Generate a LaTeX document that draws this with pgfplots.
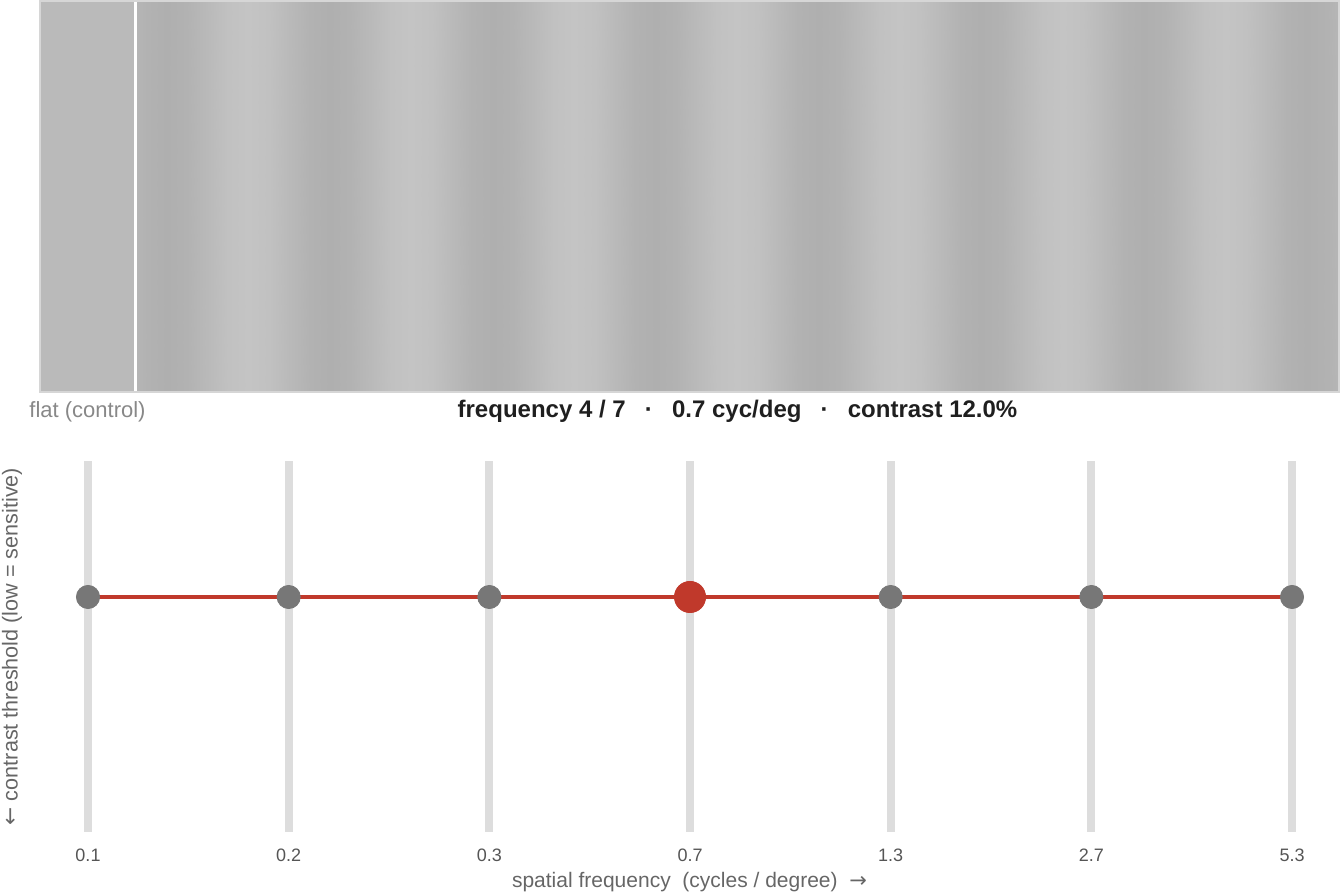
\documentclass[border=0pt]{standalone}
\usepackage{fontspec}
\setmainfont{Liberation Sans}
\newfontfamily\arrowfont{DejaVu Sans}
\usepackage{pgfplots}
\pgfplotsset{compat=1.18}
\definecolor{redline}{HTML}{C0392B}
\definecolor{dotgray}{HTML}{777777}
\definecolor{bargray}{HTML}{DDDDDD}
\definecolor{bordergray}{HTML}{D6D6D6}
\definecolor{flatgray}{HTML}{BABABA}
\definecolor{ticktext}{HTML}{555555}
\definecolor{labeltext}{HTML}{666666}
\definecolor{flattext}{HTML}{888888}
\definecolor{titletext}{HTML}{1F1F1F}
\begin{document}
\begin{tikzpicture}
\useasboundingbox (0,0) rectangle (670.5pt,446.5pt);
% ---------------- top grating panel ----------------
\begin{axis}[
  at={(20pt,250.5pt)}, anchor=south west,
  scale only axis, width=649.5pt, height=195.5pt,
  xmin=40, xmax=1339, ymin=0, ymax=1,
  axis on top,
  axis line style={draw=bordergray, line width=1pt},
  xtick=\empty, ytick=\empty,
  colormap={grat}{rgb255(0)=(175,175,175) rgb255(1)=(196,196,196)},
  point meta min=0, point meta max=1,
]
\addplot[fill=flatgray, draw=none] coordinates {(40,0) (135,0) (135,1) (40,1)} -- cycle;
\addplot[surf, shader=interp, mesh/rows=2, mesh/cols=61, point meta=explicit] coordinates {
(137,0)[0.30] (146.64,0)[0.146]
(167.00,0)[0] (187.36,0)[0.146] (207.73,0)[0.5] (228.09,0)[0.854] (248.45,0)[1] (268.81,0)[0.854] (289.18,0)[0.5] (309.54,0)[0.146]
(329.90,0)[0] (350.26,0)[0.146] (370.63,0)[0.5] (390.99,0)[0.854] (411.35,0)[1] (431.71,0)[0.854] (452.08,0)[0.5] (472.44,0)[0.146]
(492.80,0)[0] (513.16,0)[0.146] (533.53,0)[0.5] (553.89,0)[0.854] (574.25,0)[1] (594.61,0)[0.854] (614.98,0)[0.5] (635.34,0)[0.146]
(655.70,0)[0] (676.06,0)[0.146] (696.43,0)[0.5] (716.79,0)[0.854] (737.15,0)[1] (757.51,0)[0.854] (777.88,0)[0.5] (798.24,0)[0.146]
(818.60,0)[0] (838.96,0)[0.146] (859.33,0)[0.5] (879.69,0)[0.854] (900.05,0)[1] (920.41,0)[0.854] (940.78,0)[0.5] (961.14,0)[0.146]
(981.50,0)[0] (1001.86,0)[0.146] (1022.23,0)[0.5] (1042.59,0)[0.854] (1062.95,0)[1] (1083.31,0)[0.854] (1103.68,0)[0.5] (1124.04,0)[0.146]
(1144.40,0)[0] (1164.76,0)[0.146] (1185.13,0)[0.5] (1205.49,0)[0.854] (1225.85,0)[1] (1246.21,0)[0.854] (1266.58,0)[0.5] (1286.94,0)[0.146]
(1307.30,0)[0] (1327.66,0)[0.146] (1339,0)[0.33]
(137,1)[0.30] (146.64,1)[0.146]
(167.00,1)[0] (187.36,1)[0.146] (207.73,1)[0.5] (228.09,1)[0.854] (248.45,1)[1] (268.81,1)[0.854] (289.18,1)[0.5] (309.54,1)[0.146]
(329.90,1)[0] (350.26,1)[0.146] (370.63,1)[0.5] (390.99,1)[0.854] (411.35,1)[1] (431.71,1)[0.854] (452.08,1)[0.5] (472.44,1)[0.146]
(492.80,1)[0] (513.16,1)[0.146] (533.53,1)[0.5] (553.89,1)[0.854] (574.25,1)[1] (594.61,1)[0.854] (614.98,1)[0.5] (635.34,1)[0.146]
(655.70,1)[0] (676.06,1)[0.146] (696.43,1)[0.5] (716.79,1)[0.854] (737.15,1)[1] (757.51,1)[0.854] (777.88,1)[0.5] (798.24,1)[0.146]
(818.60,1)[0] (838.96,1)[0.146] (859.33,1)[0.5] (879.69,1)[0.854] (900.05,1)[1] (920.41,1)[0.854] (940.78,1)[0.5] (961.14,1)[0.146]
(981.50,1)[0] (1001.86,1)[0.146] (1022.23,1)[0.5] (1042.59,1)[0.854] (1062.95,1)[1] (1083.31,1)[0.854] (1103.68,1)[0.5] (1124.04,1)[0.146]
(1144.40,1)[0] (1164.76,1)[0.146] (1185.13,1)[0.5] (1205.49,1)[0.854] (1225.85,1)[1] (1246.21,1)[0.854] (1266.58,1)[0.5] (1286.94,1)[0.146]
(1307.30,1)[0] (1327.66,1)[0.146] (1339,1)[0.33]
};
\addplot[white, line width=1pt] coordinates {(135.5,0) (135.5,1)};
\end{axis}
% ---------------- bottom sensitivity panel ----------------
\begin{axis}[
  at={(20pt,30.5pt)}, anchor=south west,
  scale only axis, width=649.5pt, height=185.5pt,
  xmin=-0.2392, xmax=6.2341, ymin=0, ymax=1,
  axis line style={draw=none},
  xtick={0,1,2,3,4,5,6},
  xticklabels={0.1,0.2,0.3,0.7,1.3,2.7,5.3},
  ytick=\empty,
  major tick length=0pt,
  xticklabel style={font=\fontsize{9}{11}\selectfont, text=ticktext, anchor=center, yshift=-11.5pt},
  xlabel={spatial frequency\ \ (cycles / degree)\ \ {\arrowfont →}},
  xlabel style={font=\fontsize{10.5}{12}\selectfont, text=labeltext, at={(axis description cs:0.5,0)}, anchor=center, yshift=-25pt},
  ylabel={{\arrowfont ←} contrast threshold (low = sensitive)},
  ylabel style={font=\fontsize{10.8}{12}\selectfont, text=labeltext, at={(axis description cs:-0.02156,0.5)}, anchor=center},
  clip=false,
]
\addplot[ycomb, bargray, line width=4pt, no marks] coordinates {(0,1) (1,1) (2,1) (3,1) (4,1) (5,1) (6,1)};
\addplot[redline, line width=1.8pt, no marks] coordinates {(0,0.6334) (1,0.6334) (2,0.6334) (3,0.6334) (4,0.6334) (5,0.6334) (6,0.6334)};
\addplot[only marks, mark=*, mark size=5.8pt, mark options={fill=dotgray, draw=dotgray}] coordinates {(0,0.6334) (1,0.6334) (2,0.6334) (4,0.6334) (5,0.6334) (6,0.6334)};
\addplot[only marks, mark=*, mark size=7.8pt, mark options={fill=redline, draw=redline}] coordinates {(3,0.6334)};
\end{axis}
% ---------------- texts under the grating ----------------
\node[anchor=base, font=\fontsize{12}{14}\selectfont\bfseries, text=titletext] at (368.75pt,237.75pt) {frequency 4 / 7\hspace{0.8em}·\hspace{0.8em}0.7 cyc/deg\hspace{0.8em}·\hspace{0.8em}contrast 12.0\%};
\node[anchor=base, font=\fontsize{11}{13}\selectfont, text=flattext] at (43.75pt,237.5pt) {flat (control)};
\end{tikzpicture}
\end{document}
